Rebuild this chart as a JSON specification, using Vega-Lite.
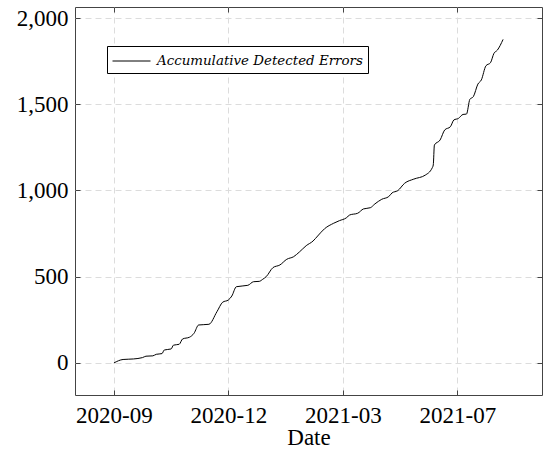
{
  "$schema": "https://vega.github.io/schema/vega-lite/v6.json",
  "autosize": {"type": "none"},
  "padding": {"left": 75, "top": 7, "right": 3, "bottom": 63},
  "width": 467,
  "height": 388,
  "background": "white",
  "config": {
    "font": "Liberation Serif",
    "view": {"stroke": "#444", "strokeWidth": 1},
    "axis": {
      "domain": false,
      "tickColor": "#444",
      "tickSize": -5,
      "labelFont": "Liberation Serif",
      "labelFontSize": 23,
      "labelColor": "black",
      "titleFont": "Liberation Serif",
      "titleFontSize": 23,
      "titleFontWeight": "normal",
      "titleColor": "black",
      "gridColor": "#dcdcdc",
      "gridDash": [6, 4],
      "gridWidth": 1
    }
  },
  "data": {
    "values": [
      {"date": "2020-09-07T00:00:00", "value": 0},
      {"date": "2020-09-15T00:00:00", "value": 20},
      {"date": "2020-09-24T00:00:00", "value": 23},
      {"date": "2020-10-02T00:00:00", "value": 31},
      {"date": "2020-10-05T00:00:00", "value": 39},
      {"date": "2020-10-11T00:00:00", "value": 41},
      {"date": "2020-10-14T00:00:00", "value": 50},
      {"date": "2020-10-19T00:00:00", "value": 54},
      {"date": "2020-10-21T00:00:00", "value": 75},
      {"date": "2020-10-27T00:00:00", "value": 81},
      {"date": "2020-10-29T00:00:00", "value": 103},
      {"date": "2020-11-03T00:00:00", "value": 108},
      {"date": "2020-11-06T00:00:00", "value": 139},
      {"date": "2020-11-12T00:00:00", "value": 149},
      {"date": "2020-11-16T00:00:00", "value": 172},
      {"date": "2020-11-20T00:00:00", "value": 220},
      {"date": "2020-11-29T00:00:00", "value": 224},
      {"date": "2020-12-06T00:00:00", "value": 297},
      {"date": "2020-12-11T00:00:00", "value": 352},
      {"date": "2020-12-16T00:00:00", "value": 365},
      {"date": "2020-12-19T00:00:00", "value": 388},
      {"date": "2020-12-23T00:00:00", "value": 442},
      {"date": "2021-01-02T00:00:00", "value": 450},
      {"date": "2021-01-07T00:00:00", "value": 471},
      {"date": "2021-01-12T00:00:00", "value": 473},
      {"date": "2021-01-15T00:00:00", "value": 485},
      {"date": "2021-01-18T00:00:00", "value": 500},
      {"date": "2021-01-24T00:00:00", "value": 553},
      {"date": "2021-01-30T00:00:00", "value": 568},
      {"date": "2021-02-05T00:00:00", "value": 601},
      {"date": "2021-02-11T00:00:00", "value": 616},
      {"date": "2021-02-16T00:00:00", "value": 643},
      {"date": "2021-02-22T00:00:00", "value": 680},
      {"date": "2021-02-28T00:00:00", "value": 707},
      {"date": "2021-03-04T00:00:00", "value": 736},
      {"date": "2021-03-10T00:00:00", "value": 778},
      {"date": "2021-03-18T00:00:00", "value": 810},
      {"date": "2021-03-23T00:00:00", "value": 825},
      {"date": "2021-03-29T00:00:00", "value": 841},
      {"date": "2021-04-01T00:00:00", "value": 858},
      {"date": "2021-04-08T00:00:00", "value": 868},
      {"date": "2021-04-13T00:00:00", "value": 893},
      {"date": "2021-04-19T00:00:00", "value": 900},
      {"date": "2021-04-23T00:00:00", "value": 922},
      {"date": "2021-04-29T00:00:00", "value": 949},
      {"date": "2021-05-05T00:00:00", "value": 964},
      {"date": "2021-05-08T00:00:00", "value": 986},
      {"date": "2021-05-13T00:00:00", "value": 999},
      {"date": "2021-05-19T00:00:00", "value": 1042},
      {"date": "2021-05-27T00:00:00", "value": 1066},
      {"date": "2021-06-06T00:00:00", "value": 1089},
      {"date": "2021-06-12T00:00:00", "value": 1130},
      {"date": "2021-06-13T00:00:00", "value": 1148},
      {"date": "2021-06-14T00:00:00", "value": 1264},
      {"date": "2021-06-19T00:00:00", "value": 1293},
      {"date": "2021-06-23T00:00:00", "value": 1351},
      {"date": "2021-06-28T00:00:00", "value": 1370},
      {"date": "2021-07-01T00:00:00", "value": 1409},
      {"date": "2021-07-05T00:00:00", "value": 1418},
      {"date": "2021-07-09T00:00:00", "value": 1441},
      {"date": "2021-07-12T00:00:00", "value": 1443},
      {"date": "2021-07-15T00:00:00", "value": 1529},
      {"date": "2021-07-18T00:00:00", "value": 1544},
      {"date": "2021-07-22T00:00:00", "value": 1617},
      {"date": "2021-07-25T00:00:00", "value": 1641},
      {"date": "2021-07-29T00:00:00", "value": 1723},
      {"date": "2021-08-02T00:00:00", "value": 1741},
      {"date": "2021-08-05T00:00:00", "value": 1795},
      {"date": "2021-08-08T00:00:00", "value": 1814},
      {"date": "2021-08-13T00:00:00", "value": 1876}
    ]
  },
  "resolve": {"axis": {"x": "independent", "y": "independent"}},
  "layer": [
    {
      "mark": {"type": "line", "strokeWidth": 1, "interpolate": "monotone"},
      "encoding": {
        "x": {
          "field": "date",
          "type": "temporal",
          "title": "Date",
          "scale": {
            "domain": [
              {"year": 2020, "month": "aug", "date": 4},
              {"year": 2021, "month": "sep", "date": 16}
            ],
            "nice": false
          },
          "axis": {
            "orient": "bottom",
            "values": [
              {"year": 2020, "month": "sep", "date": 7},
              {"year": 2020, "month": "dec", "date": 16},
              {"year": 2021, "month": "mar", "date": 26},
              {"year": 2021, "month": "jul", "date": 4}
            ],
            "format": "%Y-%m",
            "labelPadding": 14,
            "titlePadding": -1
          }
        },
        "y": {
          "field": "value",
          "type": "quantitative",
          "title": null,
          "scale": {"domain": [-186, 2064], "nice": false, "zero": false},
          "axis": {
            "orient": "left",
            "values": [0, 500, 1000, 1500, 2000],
            "format": ",d",
            "labelPadding": 12
          }
        },
        "color": {
          "datum": "Accumulative Detected Errors",
          "type": "nominal",
          "scale": {"range": ["black"]},
          "legend": {
            "title": null,
            "orient": "none",
            "legendX": 32,
            "legendY": 39,
            "symbolType": "M-1,0H3",
            "symbolSize": 361,
            "symbolStrokeWidth": 1,
            "symbolStrokeColor": "black",
            "labelFont": "DejaVu Serif",
            "labelFontStyle": "italic",
            "labelFontSize": 13.4,
            "labelColor": "black",
            "labelOffset": 25,
            "labelLimit": 400,
            "strokeColor": "black",
            "fillColor": "white",
            "padding": 5,
            "cornerRadius": 0
          }
        }
      }
    },
    {
      "mark": {"type": "line", "opacity": 0},
      "encoding": {
        "x": {
          "field": "date",
          "type": "temporal",
          "axis": {
            "orient": "top",
            "values": [
              {"year": 2020, "month": "sep", "date": 7},
              {"year": 2020, "month": "dec", "date": 16},
              {"year": 2021, "month": "mar", "date": 26},
              {"year": 2021, "month": "jul", "date": 4}
            ],
            "labels": false,
            "grid": false,
            "title": null
          }
        },
        "y": {
          "field": "value",
          "type": "quantitative",
          "axis": {
            "orient": "right",
            "values": [0, 500, 1000, 1500, 2000],
            "labels": false,
            "grid": false,
            "title": null
          }
        }
      }
    }
  ]
}
